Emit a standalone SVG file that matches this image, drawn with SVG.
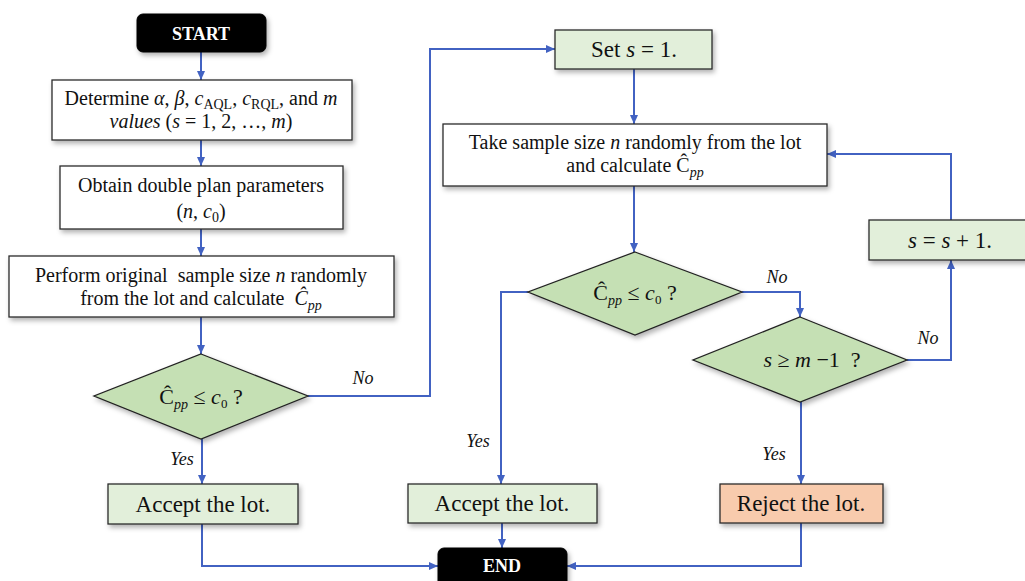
<svg xmlns="http://www.w3.org/2000/svg" width="1025" height="581" viewBox="0 0 1025 581">
<style>
  text { font-family: "Liberation Serif", "Times New Roman", serif; fill: #111; }
  .box { fill: #ffffff; stroke: #2b2b2b; stroke-width: 1.3; filter: url(#sh); }
  .gbox { fill: #e2efda; stroke: #2b2b2b; stroke-width: 1.3; filter: url(#sh); }
  .rbox { fill: #f8cbad; stroke: #2b2b2b; stroke-width: 1.3; filter: url(#sh); }
  .term { fill: #000000; stroke: #000; stroke-width: 1; filter: url(#sh); }
  .dia { fill: #c5e0b4; stroke: #222; stroke-width: 1.3; filter: url(#sh); }
  .tt { fill: #ffffff; font-weight: bold; font-size: 18px; text-anchor: middle; }
  .t20 { font-size: 20px; text-anchor: middle; }
  .t23 { font-size: 23px; text-anchor: middle; }
  .dt { font-size: 22px; text-anchor: middle; }
  .lbl { font-size: 18px; font-style: italic; text-anchor: middle; }
  .i { font-style: italic; }
  .conn { fill: none; stroke: #4262c2; stroke-width: 2; }
</style>
<defs>
  <filter id="sh" x="-10%" y="-15%" width="125%" height="145%">
    <feDropShadow dx="2" dy="3" stdDeviation="2.5" flood-color="#000" flood-opacity="0.3"/>
  </filter>
  <marker id="ah" markerUnits="userSpaceOnUse" markerWidth="9" markerHeight="8" refX="9" refY="4" orient="auto">
    <path d="M0,0 L9,4 L0,8 z" fill="#4262c2"/>
  </marker>
</defs>

<g id="connectors">
  <path class="conn" marker-end="url(#ah)" d="M201,52 V80"/>
  <path class="conn" marker-end="url(#ah)" d="M201,140 V166"/>
  <path class="conn" marker-end="url(#ah)" d="M201,229 V256"/>
  <path class="conn" marker-end="url(#ah)" d="M201,317 V354"/>
  <path class="conn" marker-end="url(#ah)" d="M202,439 V484"/>
  <path class="conn" marker-end="url(#ah)" d="M202,524 V566 H438"/>
  <path class="conn" marker-end="url(#ah)" d="M308,396 H430 V49 H555"/>
  <path class="conn" marker-end="url(#ah)" d="M634,69 V124"/>
  <path class="conn" marker-end="url(#ah)" d="M634,186 V252"/>
  <path class="conn" marker-end="url(#ah)" d="M528,292 H501 V484"/>
  <path class="conn" marker-end="url(#ah)" d="M502,523 V548"/>
  <path class="conn" marker-end="url(#ah)" d="M742,292 H800 V317"/>
  <path class="conn" marker-end="url(#ah)" d="M907,360 H951 V260"/>
  <path class="conn" marker-end="url(#ah)" d="M951,220 V154 H827"/>
  <path class="conn" marker-end="url(#ah)" d="M801,402 V484"/>
  <path class="conn" marker-end="url(#ah)" d="M801,523 V566 H567"/>
  <text class="lbl" x="363" y="384">No</text>
  <text class="lbl" x="182" y="465">Yes</text>
  <text class="lbl" x="478" y="447">Yes</text>
  <text class="lbl" x="777" y="283">No</text>
  <text class="lbl" x="928" y="344">No</text>
  <text class="lbl" x="774" y="460">Yes</text>
</g>

<g id="start">
  <rect class="term" x="137" y="14" width="129" height="38" rx="6"/>
  <text class="tt" x="201" y="40">START</text>
</g>

<g id="determine">
  <rect class="box" x="52" y="80" width="300" height="60"/>
  <text class="t20" x="201" y="105">Determine <tspan class="i">α</tspan>, <tspan class="i">β</tspan>, <tspan class="i">c</tspan><tspan font-size="14" dy="4">AQL</tspan><tspan dy="-4">, </tspan><tspan class="i">c</tspan><tspan font-size="14" dy="4">RQL</tspan><tspan dy="-4">, and </tspan><tspan class="i">m</tspan></text>
  <text class="t20" x="201" y="128"><tspan class="i">values</tspan> (<tspan class="i">s</tspan> = 1, 2, …, <tspan class="i">m</tspan>)</text>
</g>

<g id="obtain">
  <rect class="box" x="60" y="166" width="283" height="63"/>
  <text class="t20" x="201" y="192">Obtain double plan parameters</text>
  <text class="t20" x="201" y="218">(<tspan class="i">n</tspan>, <tspan class="i">c</tspan><tspan font-size="14" dy="4">0</tspan><tspan dy="-4">)</tspan></text>
</g>

<g id="perform">
  <rect class="box" x="9" y="256" width="385" height="61"/>
  <text class="t20" x="201" y="282">Perform original&#160; sample size <tspan class="i">n</tspan> randomly</text>
  <text class="t20" x="201" y="305">from the lot and calculate&#160; <tspan class="i">Ĉ</tspan><tspan class="i" font-size="14" dy="5">pp</tspan></text>
</g>

<g id="decision1">
  <polygon class="dia" points="201,354 308,396 201,439 94,396"/>
  <text class="dt" x="201" y="404">Ĉ<tspan class="i" font-size="14" dy="5">pp</tspan><tspan dy="-5"> ≤ </tspan><tspan class="i">c</tspan><tspan font-size="13" dy="4">0</tspan><tspan dy="-4"> ?</tspan></text>
</g>

<g id="accept1">
  <rect class="gbox" x="108" y="484" width="190" height="40"/>
  <text class="t23" x="203" y="512">Accept the lot.</text>
</g>

<g id="set">
  <rect class="gbox" x="555" y="30" width="157" height="39"/>
  <text class="t23" x="634" y="57">Set <tspan class="i">s</tspan> = 1.</text>
</g>

<g id="take">
  <rect class="box" x="443" y="124" width="384" height="62"/>
  <text class="t20" x="635" y="149">Take sample size <tspan class="i">n</tspan> randomly from the lot</text>
  <text class="t20" x="635" y="172">and calculate Ĉ<tspan class="i" font-size="14" dy="5">pp</tspan></text>
</g>

<g id="decision2">
  <polygon class="dia" points="635,252 742,292 635,335 528,292"/>
  <text class="dt" x="635" y="300">Ĉ<tspan class="i" font-size="14" dy="5">pp</tspan><tspan dy="-5"> ≤ </tspan><tspan class="i">c</tspan><tspan font-size="13" dy="4">0</tspan><tspan dy="-4"> ?</tspan></text>
</g>

<g id="decision3">
  <polygon class="dia" points="800,317 907,360 800,402 693,360"/>
  <text class="dt" x="812" y="367"><tspan class="i">s</tspan> ≥ <tspan class="i">m</tspan> −1&#160; ?</text>
</g>

<g id="increment">
  <rect class="gbox" x="869" y="220" width="160" height="40"/>
  <text class="t23" x="950" y="248"><tspan class="i">s</tspan> = <tspan class="i">s</tspan> + 1.</text>
</g>

<g id="accept2">
  <rect class="gbox" x="408" y="484" width="189" height="39"/>
  <text class="t23" x="502" y="511">Accept the lot.</text>
</g>

<g id="reject">
  <rect class="rbox" x="720" y="484" width="163" height="39"/>
  <text class="t23" x="801" y="511">Reject the lot.</text>
</g>

<g id="end">
  <rect class="term" x="438" y="548" width="129" height="42" rx="6"/>
  <text class="tt" x="502" y="572">END</text>
</g>
</svg>
